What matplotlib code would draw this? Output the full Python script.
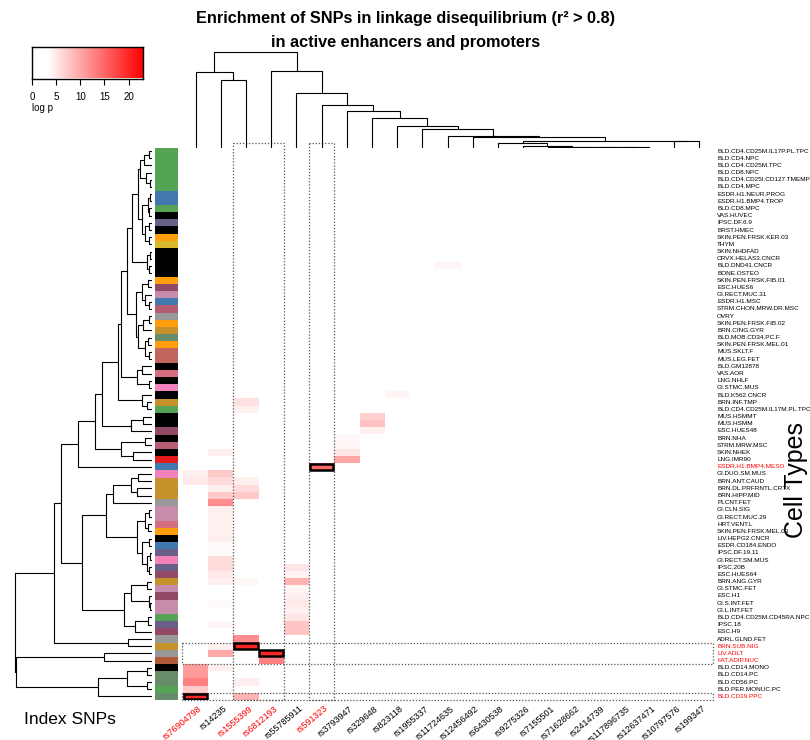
import numpy as np
import matplotlib
matplotlib.use('Agg')
import matplotlib.pyplot as plt
from matplotlib.colors import LinearSegmentedColormap
from matplotlib.patches import Rectangle

plt.rcParams['font.family'] = ['Liberation Sans', 'DejaVu Sans']

W, H = 810, 740

# ---------------- data ----------------
cell_types = [
    'BLD.CD4.CD25M.IL17P.PL.TPC', 'BLD.CD4.NPC', 'BLD.CD4.CD25M.TPC', 'BLD.CD8.NPC',
    'BLD.CD4.CD25I.CD127.TMEMPC', 'BLD.CD4.MPC', 'ESDR.H1.NEUR.PROG', 'ESDR.H1.BMP4.TROP',
    'BLD.CD8.MPC', 'VAS.HUVEC', 'IPSC.DF.6.9', 'BRST.HMEC', 'SKIN.PEN.FRSK.KER.03', 'THYM',
    'SKIN.NHDFAD', 'CRVX.HELAS3.CNCR', 'BLD.DND41.CNCR', 'BONE.OSTEO', 'SKIN.PEN.FRSK.FIB.01',
    'ESC.HUES6', 'GI.RECT.MUC.31', 'ESDR.H1.MSC', 'STRM.CHON.MRW.DR.MSC', 'OVRY',
    'SKIN.PEN.FRSK.FIB.02', 'BRN.CING.GYR', 'BLD.MOB.CD34.PC.F', 'SKIN.PEN.FRSK.MEL.01',
    'MUS.SKLT.F', 'MUS.LEG.FET', 'BLD.GM12878', 'VAS.AOR', 'LNG.NHLF', 'GI.STMC.MUS',
    'BLD.K562.CNCR', 'BRN.INF.TMP', 'BLD.CD4.CD25M.IL17M.PL.TPC', 'MUS.HSMMT', 'MUS.HSMM',
    'ESC.HUES48', 'BRN.NHA', 'STRM.MRW.MSC', 'SKIN.NHEK', 'LNG.IMR90', 'ESDR.H1.BMP4.MESO',
    'GI.DUO.SM.MUS', 'BRN.ANT.CAUD', 'BRN.DL.PRFRNTL.CRTX', 'BRN.HIPP.MID', 'PLCNT.FET',
    'GI.CLN.SIG', 'GI.RECT.MUC.29', 'HRT.VENT.L', 'SKIN.PEN.FRSK.MEL.03', 'LIV.HEPG2.CNCR',
    'ESDR.CD184.ENDO', 'IPSC.DF.19.11', 'GI.RECT.SM.MUS', 'IPSC.20B', 'ESC.HUES64',
    'BRN.ANG.GYR', 'GI.STMC.FET', 'ESC.H1', 'GI.S.INT.FET', 'GI.L.INT.FET',
    'BLD.CD4.CD25M.CD45RA.NPC', 'IPSC.18', 'ESC.H9', 'ADRL.GLND.FET', 'BRN.SUB.NIG',
    'LIV.ADLT', 'FAT.ADIP.NUC', 'BLD.CD14.MONO', 'BLD.CD14.PC', 'BLD.CD56.PC',
    'BLD.PER.MONUC.PC', 'BLD.CD19.PPC']

snps = ['rs76904798', 'rs14235', 'rs1555399', 'rs6812193', 'rs55785911', 'rs591323',
        'rs3793947', 'rs329648', 'rs823118', 'rs1955337', 'rs11724635', 'rs12456492',
        'rs6430538', 'rs9275326', 'rs7155501', 'rs71628662', 'rs2414739', 'rs117896735',
        'rs12637471', 'rs10797576', 'rs199347']

# tissue group colour of each cell type (side bar)
grp_col = {'T': '#55A354', 'ESD': '#4178AE', 'ENC': '#000000', 'IPS': '#69608A',
           'EPI': '#FF9D0C', 'THY': '#DAB92E', 'ESC': '#924965', 'DIG': '#C58DAA',
           'MES': '#B65C73', 'OTH': '#999999', 'BRN': '#C5912B', 'HSC': '#678C69',
           'MUS': '#C2655D', 'HRT': '#D56F80', 'SMM': '#F182BC', 'IMR': '#E41A1C',
           'ADI': '#AF5B39'}
row_group = ['T', 'T', 'T', 'T', 'T', 'T', 'ESD', 'ESD', 'T', 'ENC', 'IPS', 'ENC', 'EPI', 'THY',
             'ENC', 'ENC', 'ENC', 'ENC', 'EPI', 'ESC', 'DIG', 'ESD', 'MES', 'OTH', 'EPI', 'BRN',
             'HSC', 'EPI', 'MUS', 'MUS', 'ENC', 'HRT', 'ENC', 'SMM', 'ENC', 'BRN', 'T', 'ENC',
             'ENC', 'ESC', 'ENC', 'MES', 'ENC', 'IMR', 'ESD', 'SMM', 'BRN', 'BRN', 'BRN', 'OTH',
             'DIG', 'DIG', 'HRT', 'EPI', 'ENC', 'ESD', 'IPS', 'SMM', 'IPS', 'ESC', 'BRN', 'DIG',
             'ESC', 'DIG', 'DIG', 'T', 'IPS', 'ESC', 'OTH', 'BRN', 'OTH', 'ADI', 'ENC', 'HSC',
             'HSC', 'T', 'HSC']

# non-zero enrichment cells (row number, column number, -log10 p)
cell_row = [46, 47, 73, 74, 75, 76, 77,
            43, 46, 47, 48, 49, 50, 51, 52, 53, 54, 55, 56, 57, 58, 59, 60, 61, 64, 67, 70, 71, 73,
            36, 37, 47, 48, 49, 61, 69, 70, 75, 77,
            71, 72,
            59, 60, 61, 62, 63, 64, 65, 66, 67, 68,
            45,
            41, 42, 43, 44,
            38, 39, 40,
            35,
            17]
cell_col = [1, 1, 1, 1, 1, 1, 1,
            2, 2, 2, 2, 2, 2, 2, 2, 2, 2, 2, 2, 2, 2, 2, 2, 2, 2, 2, 2, 2, 2,
            3, 3, 3, 3, 3, 3, 3, 3, 3, 3,
            4, 4,
            5, 5, 5, 5, 5, 5, 5, 5, 5, 5,
            6,
            7, 7, 7, 7,
            8, 8, 8,
            9,
            11]
cell_val = [4.4, 5, 10.7, 11, 13, 7.2, 20,
            4.4, 7.3, 6, 4.4, 7.4, 12, 4.4, 4.4, 4.4, 4.4, 4.4, 3.6, 3.6, 6, 6, 5, 4.4, 3.6, 4,
            4.4, 9.8, 4.4,
            5.5, 4.4, 4.5, 6, 7.4, 3.9, 12, 20, 4.5, 9,
            20, 13,
            5.2, 4.2, 9, 4, 4.4, 5, 4.4, 5.2, 7.7, 7.7,
            15,
            3.8, 4, 5.2, 10,
            7, 8, 4.4,
            4,
            4]

# best cell type per index SNP (boxed cells)
best_row = [45, 70, 71, 77]
best_col = [6, 3, 4, 1]
boxed_cols = [(3, 4), (6, 6)]
boxed_rows = [(70, 72), (77, 77)]
red_rows = [45, 70, 71, 72, 77]
red_cols = [1, 3, 4, 6]

# row dendrogram (height, left, right); leaves are row numbers
rows_top = (40,
            (35, (22, (8, 1, 2), 3), (18, 4, (6, 5, 6))),
            (28, (12, (5, 7, 8), (8, 9, 10)), (20, (10, 11, 12), (8, 13, 14))))
rows_top = (57, rows_top, (15, (6, 15, 16), (10, 17, 18)))
rows_mid = (48, (30, (12, 19, 20), (20, 21, (10, 22, 23))),
            (40, (25, (10, 24, 25), 26), (20, (12, 27, 28), (8, 29, 30))))
rows_a = (73, rows_top, rows_mid)
rows_a = (90, rows_a, (45, (30, 31, 32), (10, 33, 34)))
rows_a = (100, rows_a, (30, 35, (15, 36, 37)))
rows_a = (147, rows_a, (60, (25, 38, 39), 40))
rows_a = (165, rows_a, (90, (20, 41, 42), (55, 43, 44)))
rows_a = (215, rows_a, 45)
rows_b = (135, (115, (60, (40, 46, 47), (45, 48, 49)), 50),
          (45, (20, (8, 51, 52), (12, 53, 54)),
           (30, (10, 55, 56), (15, (5, 57, 58), (10, 59, 60)))))
rows_b = (205, rows_b, (83, (60, (15, 61, 62), (10, 63, (5, 64, 65))), (50, (12, 66, 67), 68)))
rows_ab = (285, (265, rows_a, rows_b), (70, 69, 70))
row_tree = (400, rows_ab,
            (397, (140, 71, 72), (157, (73, (15, 73, 74), (15, 75, 76)), 77)))

# column dendrogram (height in px above the heatmap); leaves are column numbers
cols_tail = (7, (4.6, 13, (1.2, 14, (0.9, 15, (0.7, 16, (0.5, 17, (0.3, 18, 19)))))),
             (7, 20, 21))
cols_right = (10.5, 12, cols_tail)
for h, c in [(11.1, 11), (18.7, 10), (21.4, 9), (29.3, 8), (36.1, 7), (42.3, 6),
             (55, 5), (76.5, 4)]:
    cols_right = (h, c, cols_right)
col_tree = (96, (75.5, 1, (68, 2, 3)), cols_right)

vmax = 23

# ---------------- helpers ----------------
def px(x0, y0, x1, y1):
    return [x0 / W, 1 - y1 / H, (x1 - x0) / W, (y1 - y0) / H]


def draw_tree(ax, node, side):
    if isinstance(node, int):
        return node - 0.5, 0
    h, a, b = node
    pa, ha = draw_tree(ax, a, side)
    pb, hb = draw_tree(ax, b, side)
    p = [pa, pa, pb, pb]
    q = [ha, h, h, hb]
    if side == 'left':
        ax.plot(q, p, color='black', lw=0.8, solid_capstyle='butt')
    else:
        ax.plot(p, q, color='black', lw=0.8, solid_capstyle='butt')
    return (pa + pb) / 2, h


nr, nc = len(cell_types), len(snps)
M = np.zeros((nr, nc))
for r, c, v in zip(cell_row, cell_col, cell_val):
    M[r - 1, c - 1] = v

cmap = LinearSegmentedColormap.from_list('wr', [(0, 'white'), (0.14, 'white'), (1, 'red')])

fig = plt.figure(figsize=(W / 100, H / 100), dpi=100)

# heatmap
L, T, R, B = 183, 147.5, 712, 700
ax = fig.add_axes(px(L, T, R, B))
ax.imshow(M, cmap=cmap, vmin=0, vmax=vmax, aspect='auto', interpolation='nearest',
          extent=[0, nc, nr, 0])
ax.set_xlim(0, nc)
ax.set_ylim(nr, 0)
ax.axis('off')
for r, c in zip(best_row, best_col):
    ax.add_patch(Rectangle((c - 1 + 0.03, r - 1 + 0.1), 0.94, 0.8, fill=False,
                           ec='black', lw=1.8, zorder=5))
for c0, c1 in boxed_cols:
    ax.add_patch(Rectangle((c0 - 1, -0.6), c1 - c0 + 1, nr + 0.6, fill=False, ec='#555555',
                           lw=0.9, ls=(0, (1, 1.5)), clip_on=False, zorder=4))
for r0, r1 in boxed_rows:
    ax.add_patch(Rectangle((-0.05, r0 - 1), nc + 0.1, r1 - r0 + 1, fill=False, ec='#555555',
                           lw=0.9, ls=(0, (1, 1.5)), clip_on=False, zorder=4))

# row labels
rh = (B - T) / nr
for i, name in enumerate(cell_types):
    y = T + rh * (i + 0.5)
    fig.text(717 / W, 1 - y / H, name, fontsize=4.6, va='center', ha='left',
             color='red' if (i + 1) in red_rows else 'black')

# column labels
cw = (R - L) / nc
for j, name in enumerate(snps):
    x = L + cw * (j + 0.5) + 2
    fig.text(x / W, 1 - 704 / H, name, fontsize=6.5, rotation=40, rotation_mode='anchor',
             ha='right', va='top', color='red' if (j + 1) in red_cols else 'black')

# side colour bar
axs = fig.add_axes(px(155, T, 178, B))
for i, g in enumerate(row_group):
    axs.add_patch(Rectangle((0, i), 1, 1, color=grp_col[g], lw=0))
axs.set_xlim(0, 1)
axs.set_ylim(nr, 0)
axs.axis('off')

# row dendrogram
axr = fig.add_axes(px(10, T, 152, B))
draw_tree(axr, row_tree, 'left')
axr.set_xlim(142 * 400 / 137, 0)
axr.set_ylim(nr, 0)
axr.axis('off')

# column dendrogram
axc = fig.add_axes(px(L, 50, R, T))
draw_tree(axc, col_tree, 'top')
axc.set_xlim(0, nc)
axc.set_ylim(0, T - 50)
axc.axis('off')

# colour key
axk = fig.add_axes(px(32, 47, 143, 78.5))
axk.imshow(np.linspace(0, vmax, 256)[None, :], cmap=cmap, vmin=0, vmax=vmax, aspect='auto',
           extent=[0, vmax, 0, 1])
axk.set_yticks([])
axk.set_xticks([0, 5, 10, 15, 20])
axk.tick_params(axis='x', length=4, width=0.8, labelsize=7, pad=6)
for s in axk.spines.values():
    s.set_linewidth(1)
fig.text(32 / W, 1 - 108 / H, 'log p', fontsize=7, va='center', ha='left')

# titles
fig.text(406 / W, 1 - 18 / H, 'Enrichment of SNPs in linkage disequilibrium (r\u00b2 > 0.8)',
         fontsize=11.7, fontweight='bold', ha='center', va='center')
fig.text(406 / W, 1 - 42 / H, 'in active enhancers and promoters',
         fontsize=11.7, fontweight='bold', ha='center', va='center')
fig.text(796 / W, 1 - 480 / H, 'Cell Types', fontsize=18, rotation=90, ha='center', va='center')
fig.text(70 / W, 1 - 719 / H, 'Index SNPs', fontsize=12.5, ha='center', va='center')

fig.savefig('out.png', dpi=100)
